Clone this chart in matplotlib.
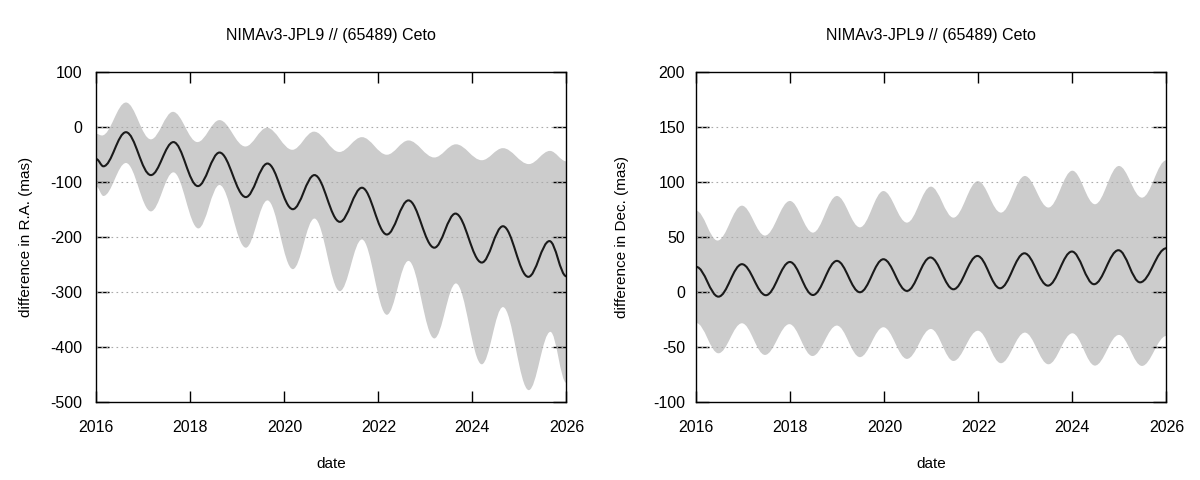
import matplotlib
matplotlib.use("Agg")
import matplotlib.pyplot as plt
from matplotlib.path import Path
from matplotlib.patches import PathPatch

plt.rcParams["font.family"] = ["Liberation Sans", "DejaVu Sans"]
plt.rcParams["axes.unicode_minus"] = False

title = "NIMAv3-JPL9 // (65489) Ceto"
years = [2016, 2018, 2020, 2022, 2024, 2026]

# R.A. panel: turning points (year, mas)
ra_t = [2016.0, 2016.15, 2016.63, 2017.16, 2017.64, 2018.16, 2018.62, 2019.18, 2019.64, 2020.18, 2020.64,
        2021.18, 2021.65, 2022.18, 2022.64, 2023.19, 2023.64, 2024.2, 2024.65, 2025.19, 2025.64, 2026.0]
ra_mid = [-58, -71, -9, -87, -27, -107, -46, -127, -66, -149, -87,
          -172, -110, -195, -133, -219, -157, -246, -180, -272, -207, -271]
ra_up_t = [2016.0, 2016.12, 2016.63, 2017.16, 2017.63, 2018.15, 2018.62, 2019.17, 2019.63, 2020.17, 2020.63,
           2021.17, 2021.65, 2022.18, 2022.64, 2023.19, 2023.65, 2024.2, 2024.65, 2025.2, 2025.65, 2026.0]
ra_up = [-12, -15, 45, -22, 28, -27, 13, -35, -1, -41, -8,
         -45, -18, -50, -24, -55, -31, -60, -38, -67, -43, -62]
ra_lo_t = [2016.0, 2016.15, 2016.63, 2017.16, 2017.64, 2018.17, 2018.62, 2019.18, 2019.64, 2020.18, 2020.64,
           2021.18, 2021.65, 2022.18, 2022.64, 2023.19, 2023.65, 2024.2, 2024.65, 2025.2, 2025.66, 2026.0]
ra_lo = [-108, -125, -65, -153, -82, -184, -105, -219, -133, -258, -166,
         -298, -204, -341, -243, -384, -284, -431, -327, -478, -372, -465]

# Dec. panel
dec_t = [2016.0, 2016.47, 2016.97, 2017.48, 2017.99, 2018.48, 2018.99, 2019.48, 2019.98, 2020.48, 2020.98,
         2021.47, 2021.98, 2022.46, 2022.98, 2023.48, 2023.99, 2024.46, 2024.98, 2025.44, 2026.0]
dec_mid = [23, -4, 25.5, -2.7, 27.5, -2.5, 28.5, 0, 30, 1.2, 31.6,
           2.7, 33, 3.6, 35.4, 6, 37, 7.3, 38.2, 9, 40]
dec_up_t = [2016.0, 2016.45, 2016.97, 2017.46, 2017.99, 2018.48, 2018.99, 2019.48, 2019.98, 2020.48, 2020.99,
            2021.47, 2021.99, 2022.48, 2022.99, 2023.49, 2024.0, 2024.48, 2024.99, 2025.48, 2026.0]
dec_up = [74, 47, 78.7, 51.5, 83, 54.2, 87.5, 59, 92, 63.3, 96,
          67.8, 101, 72.4, 105.7, 77, 110.5, 80, 114.8, 86, 120]
dec_lo_t = [2016.0, 2016.47, 2016.97, 2017.46, 2017.98, 2018.47, 2018.99, 2019.48, 2019.98, 2020.48, 2020.99,
            2021.47, 2021.99, 2022.48, 2022.99, 2023.49, 2024.0, 2024.48, 2024.99, 2025.48, 2026.0]
dec_lo = [-28, -55.5, -28.2, -57, -29, -58, -30.3, -59, -31.8, -60.6, -33.4,
          -62.5, -35, -64.5, -36.7, -65.5, -37.3, -66.7, -38.8, -67, -39.7]


def bezier(t, v, start=True):
    # smooth cubic segments between turning points (flat tangents at each point)
    verts = [(t[0], v[0])] if start else []
    codes = [Path.MOVETO] if start else []
    for i in range(1, len(t)):
        dt = t[i] - t[i - 1]
        verts += [(t[i - 1] + 0.363 * dt, v[i - 1]), (t[i] - 0.363 * dt, v[i]), (t[i], v[i])]
        codes += [Path.CURVE4] * 3
    return verts, codes


def panel(ax, t, mid, ut, up, lt, lo, ylim, yticks, ylabel, ypad, ylab_x):
    v1, c1 = bezier(ut, up)
    v2, c2 = bezier(lt[::-1], lo[::-1], start=False)
    band = Path(v1 + [(lt[-1], lo[-1])] + v2 + [(ut[0], up[0])],
                c1 + [Path.LINETO] + c2 + [Path.CLOSEPOLY])
    ax.add_patch(PathPatch(band, facecolor="#cccccc", edgecolor="none", zorder=1))
    vm, cm = bezier(t, mid)
    ax.add_patch(PathPatch(Path(vm, cm), facecolor="none", edgecolor="#1a1a1a", lw=1.5, zorder=3))

    ax.set_xlim(2016, 2026)
    ax.set_ylim(*ylim)
    ax.set_xticks(years)
    ax.set_yticks(yticks)
    for y in yticks[1:-1]:
        ax.axhline(y, color="#aaaaaa", lw=0.8, ls=(0, (1.5, 3)), zorder=2)
    ax.tick_params(axis="x", direction="in", length=8, width=1, top=True, pad=12.5, labelsize=11.5)
    ax.tick_params(axis="y", direction="in", length=9.3, width=1, right=True, pad=ypad, labelsize=11.5)
    for s in ax.spines.values():
        s.set_linewidth(1.0)
        s.set_zorder(4)
    ax.set_xlabel("date", fontsize=11, va="center")
    ax.xaxis.set_label_coords(0.5, -0.186)
    ax.set_ylabel(ylabel, fontsize=11, va="center")
    ax.yaxis.set_label_coords(ylab_x, 0.5)
    ax.set_title(title, fontsize=11.5, y=1.111, pad=0, va="center")


fig = plt.figure(figsize=(12, 4.8), dpi=100)
ax1 = fig.add_axes([0.0803, 0.162, 0.3917, 0.6875])
ax2 = fig.add_axes([0.5803, 0.162, 0.3917, 0.6875])

panel(ax1, ra_t, ra_mid, ra_up_t, ra_up, ra_lo_t, ra_lo, (-500, 100),
      [-500, -400, -300, -200, -100, 0, 100], "difference in R.A. (mas)", 10, -0.15)
panel(ax2, dec_t, dec_mid, dec_up_t, dec_up, dec_lo_t, dec_lo, (-100, 200),
      [-100, -50, 0, 50, 100, 150, 200], "difference in Dec. (mas)", 8, -0.158)

fig.savefig("out.png", dpi=100)
